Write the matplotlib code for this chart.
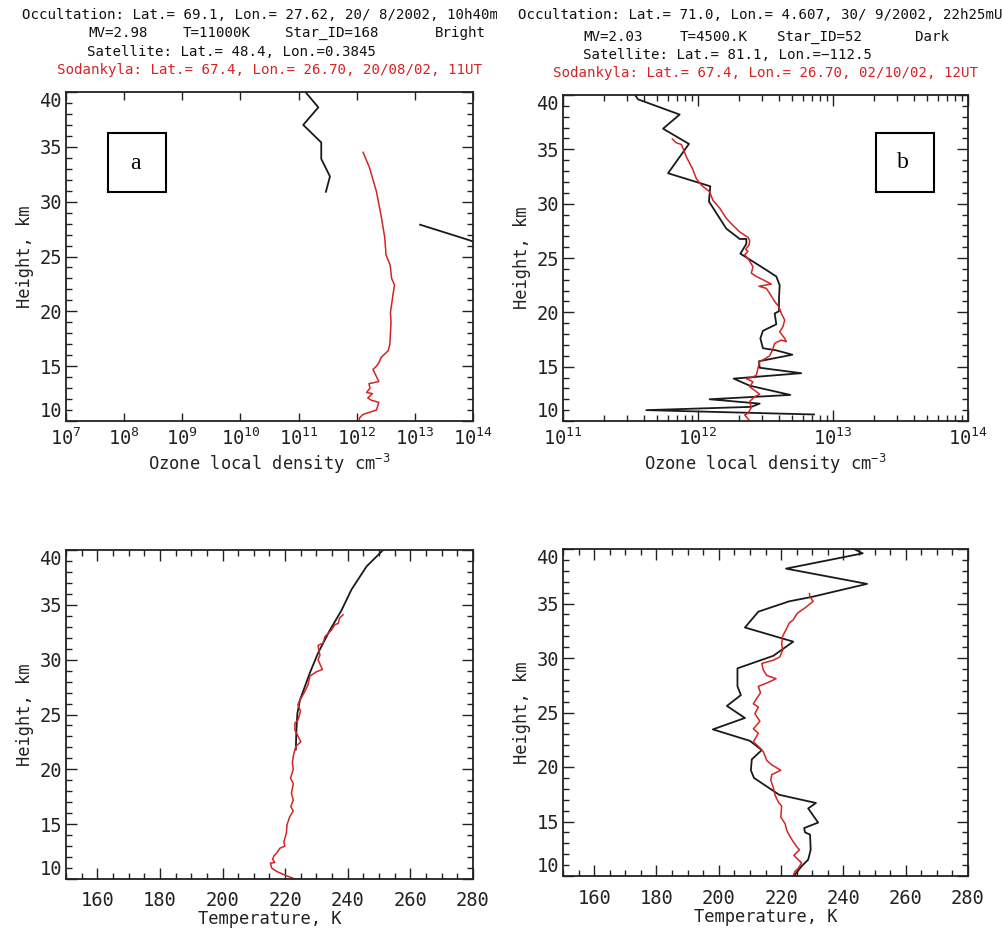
import numpy as np
import matplotlib
matplotlib.use("Agg")
import matplotlib.pyplot as plt
from matplotlib.ticker import MultipleLocator, LogLocator, NullLocator, FixedLocator, LogFormatterSciNotation
from matplotlib.patches import Rectangle

plt.rcParams['font.family'] = ['DejaVu Sans Mono', 'DejaVu Sans']
plt.rcParams['mathtext.fontset'] = 'custom'
plt.rcParams['mathtext.rm'] = 'DejaVu Sans Mono'
plt.rcParams['mathtext.it'] = 'DejaVu Sans Mono'
plt.rcParams['mathtext.bf'] = 'DejaVu Sans Mono'

RED = '#d42424'
BLACK = '#1a1a1a'
TXT = '#222222'

# ---------------- Panel a : ozone (log10 of density, cm^-3) ----------------
a_occ1_log10 = [11.07, 11.34, 11.08, 11.39, 11.39, 11.54, 11.47]
a_occ1_h     = [40.3, 38.6, 37.0, 35.4, 33.9, 32.3, 30.9]
a_occ2_log10 = [13.09, 13.87, 14.10]
a_occ2_h     = [27.9, 26.6, 26.2]
a_son_log10 = [12.11, 12.22, 12.34, 12.42, 12.48, 12.50, 12.50, 12.57, 12.58, 12.60, 12.65,
               12.62, 12.60, 12.58, 12.59, 12.58, 12.57, 12.54, 12.42, 12.38, 12.34, 12.28,
               12.38, 12.21, 12.23, 12.17, 12.27, 12.19, 12.25, 12.38, 12.34, 12.11, 12.05, 12.04]
a_son_h     = [34.5, 33.1, 30.9, 28.7, 26.8, 25.5, 25.2, 24.3, 24.0, 23.0, 22.4,
               21.4, 20.6, 19.9, 19.0, 18.0, 17.0, 16.4, 15.8, 15.3, 15.0, 14.7,
               13.6, 13.4, 13.0, 12.6, 12.5, 12.1, 11.9, 11.7, 11.0, 10.6, 10.3, 9.8]

# ---------------- Panel b : ozone (log10 of density, cm^-3) ----------------
b_occ_log10 = [11.53, 11.556, 11.864, 11.741, 11.933, 11.778, 12.091, 12.081, 12.210, 12.309,
               12.358, 12.358, 12.314, 12.506, 12.580, 12.605, 12.600, 12.600, 12.568, 12.580,
               12.481, 12.462, 12.481, 12.580, 12.699, 12.452, 12.457, 12.765, 12.264, 12.383,
               12.684, 12.086, 12.457, 12.395, 11.617, 12.859]
b_occ_h     = [40.06, 39.6, 38.2, 36.9, 35.5, 32.8, 31.6, 30.2, 27.7, 26.75,
               26.75, 26.3, 25.4, 23.9, 23.3, 22.5, 21.3, 20.1, 19.9, 18.9,
               18.3, 17.6, 16.7, 16.5, 16.1, 15.5, 14.9, 14.4, 13.9, 13.25,
               12.4, 12.0, 11.6, 11.3, 11.0, 10.6]
b_son_log10 = [11.81, 11.84, 11.877, 11.914, 11.958, 11.988, 12.025, 12.086, 12.111, 12.160,
               12.210, 12.259, 12.309, 12.370, 12.383, 12.378, 12.353, 12.370, 12.346, 12.378,
               12.407, 12.395, 12.432, 12.481, 12.543, 12.452, 12.506, 12.531, 12.568, 12.600,
               12.617, 12.642, 12.630, 12.605, 12.642, 12.654, 12.617, 12.568, 12.551, 12.531,
               12.506, 12.457, 12.444, 12.432, 12.395, 12.358, 12.407, 12.383, 12.432, 12.457,
               12.420, 12.383, 12.395, 12.370, 12.346, 12.383]
b_son_h     = [35.95, 35.6, 35.45, 34.3, 33.25, 32.3, 31.7, 31.1, 30.3, 29.6,
               28.65, 28.0, 27.4, 26.9, 26.6, 26.2, 25.8, 25.6, 25.3, 24.8,
               24.2, 23.6, 23.3, 23.0, 22.6, 22.4, 22.2, 21.75, 21.0, 20.5,
               19.9, 19.3, 18.7, 18.2, 17.6, 17.3, 17.45, 17.15, 16.5, 16.0,
               15.8, 15.45, 14.85, 14.2, 14.0, 13.9, 13.6, 13.15, 12.7, 12.45,
               12.25, 11.8, 11.25, 10.7, 10.55, 10.0]

# ---------------- Panel c : temperature (K) ----------------
c_occ_T = [251.3, 246.0, 241.2, 238.0, 234.3, 230.5, 227.9, 224.7, 223.9, 223.6, 223.4]
c_occ_h = [40.0, 38.5, 36.4, 34.5, 32.7, 30.6, 28.8, 26.3, 25.1, 23.6, 21.8]
c_son_T = [238.5, 237.4, 236.9, 235.9, 234.8, 232.7, 232.1, 230.5, 231.1, 230.5,
           231.9, 230.0, 227.9, 227.3, 226.3, 224.7, 224.1, 224.9, 224.1, 223.1,
           223.1, 225.0, 223.4, 222.6, 222.3, 222.6, 221.7, 222.6, 222.0, 222.6,
           221.8, 222.6, 221.5, 220.6, 220.4, 219.6, 219.9, 218.3, 217.4, 216.4,
           216.0, 216.7, 215.3, 215.7, 217.2, 220.4, 223.1]
c_son_h = [34.1, 33.8, 33.3, 33.2, 32.7, 32.1, 31.5, 31.3, 30.4, 30.0,
           29.1, 28.9, 28.5, 27.7, 27.1, 26.3, 25.9, 25.3, 24.5, 24.2,
           23.6, 22.5, 22.1, 21.2, 20.6, 20.0, 19.2, 18.7, 17.8, 17.2,
           16.6, 16.2, 15.7, 14.95, 14.2, 13.4, 13.0, 12.8, 12.4, 12.1,
           11.8, 11.5, 11.45, 11.0, 10.7, 10.3, 10.0]

# ---------------- Panel d : temperature (K) ----------------
d_occ_T = [243.4, 246.2, 221.6, 247.6, 229.8, 222.6, 212.7, 208.4, 223.9, 217.5,
           206.0, 206.0, 207.1, 202.6, 208.4, 198.1, 210.0, 213.8, 210.6, 210.3,
           211.3, 219.4, 231.2, 228.7, 231.9, 227.4, 227.7, 229.3, 229.5, 228.7,
           226.6, 224.1]
d_occ_h = [40.0, 39.6, 38.2, 36.8, 35.6, 35.2, 34.25, 32.8, 31.5, 30.2,
           29.05, 27.4, 26.6, 25.6, 24.5, 23.45, 22.4, 21.55, 20.7, 19.7,
           19.0, 17.45, 16.7, 16.2, 14.9, 14.4, 14.0, 13.8, 12.4, 11.5,
           10.9, 10.0]
d_son_T = [229.1, 229.3, 230.3, 227.7, 225.2, 223.9, 222.6, 221.6, 220.5, 220.2,
           220.5, 219.6, 217.5, 213.8, 214.3, 215.4, 218.4, 215.4, 212.7, 213.4,
           212.2, 211.1, 212.7, 211.6, 213.2, 211.1, 212.7, 211.1, 212.7, 214.3,
           215.4, 217.0, 219.9, 217.0, 216.7, 217.5, 218.1, 219.1, 220.2, 219.9,
           221.3, 221.8, 222.9, 223.9, 225.0, 225.9, 224.1, 225.5, 226.6, 225.5,
           224.4, 223.9]
d_son_h = [35.9, 35.6, 35.2, 34.6, 34.1, 33.5, 33.2, 32.6, 32.0, 31.3,
           30.7, 30.1, 29.8, 29.5, 28.9, 28.4, 28.1, 27.7, 27.4, 26.8,
           26.3, 25.8, 25.5, 24.9, 24.2, 23.5, 23.1, 22.3, 21.9, 21.4,
           20.6, 20.2, 19.7, 19.3, 18.8, 18.1, 17.4, 16.8, 16.4, 15.4,
           14.8, 14.2, 13.6, 13.15, 12.7, 12.4, 11.9, 11.5, 11.2, 10.7,
           10.4, 10.0]

header_left = ["Occultation: Lat.= 69.1, Lon.= 27.62, 20/ 8/2002, 10h40mUT",
               ["MV=2.98", "T=11000K", "Star_ID=168", "Bright"],
               "Satellite: Lat.= 48.4, Lon.=0.3845",
               "Sodankyla: Lat.= 67.4, Lon.= 26.70, 20/08/02, 11UT"]
header_right = ["Occultation: Lat.= 71.0, Lon.= 4.607, 30/ 9/2002, 22h25mUT",
                ["MV=2.03", "T=4500.K", "Star_ID=52", "Dark"],
                "Satellite: Lat.= 81.1, Lon.=\u2212112.5",
                "Sodankyla: Lat.= 67.4, Lon.= 26.70, 02/10/02, 12UT"]

W, H = 1003, 932
fig = plt.figure(figsize=(W / 100, H / 100), dpi=100)
fig.patch.set_facecolor('white')


def px_axes(x0, y0, x1, y1):
    return fig.add_axes([x0 / W, 1 - y1 / H, (x1 - x0) / W, (y1 - y0) / H])


axA = px_axes(66, 92, 473, 421)
axB = px_axes(563, 95, 968, 421)
axC = px_axes(66, 550, 473, 879)
axD = px_axes(563, 549, 968, 876)

TICKFS = 13.5
LABFS = 12.3
LW = 1.3

def style(ax):
    for s in ax.spines.values():
        s.set_linewidth(1.3)
        s.set_color(TXT)
    ax.set_ylim(10, 40)
    ax.yaxis.set_minor_locator(MultipleLocator(1))
    ax.tick_params(which='both', direction='in', top=True, right=True, colors=TXT,
                   labelcolor=TXT, labelsize=TICKFS)
    ax.tick_params(which='major', length=8, width=1.0)
    ax.tick_params(which='minor', length=4, width=1.0)
    ax.tick_params(axis='y', pad=3)
    ax.set_ylabel("Height, km", fontsize=LABFS, labelpad=4, color=TXT)
    ax.set_yticks([10, 15, 20, 25, 30, 35, 40])
    labs = ax.set_yticklabels(["10", "15", "20", "25", "30", "35", "40"])
    labs[0].set_va('bottom')
    labs[-1].set_va('top')


# Panel a
axA.plot(10 ** np.array(a_occ1_log10), a_occ1_h, color=BLACK, lw=LW)
axA.plot(10 ** np.array(a_occ2_log10), a_occ2_h, color=BLACK, lw=LW)
axA.plot(10 ** np.array(a_son_log10), a_son_h, color=RED, lw=1.1)
axA.set_xscale('log')
axA.set_xlim(1e7, 1e14)
axA.xaxis.set_major_locator(LogLocator(base=10, numticks=20))
axA.xaxis.set_minor_locator(NullLocator())
axA.xaxis.set_major_formatter(LogFormatterSciNotation())
style(axA)
axA.tick_params(axis='x', which='major', length=6, pad=5)
axA.set_xlabel("Ozone local density cm$^{-3}$", fontsize=LABFS, labelpad=2, color=TXT)

# Panel b
axB.plot(10 ** np.array(b_occ_log10), b_occ_h, color=BLACK, lw=LW)
axB.plot(10 ** np.array(b_son_log10), b_son_h, color=RED, lw=1.1)
axB.set_xscale('log')
axB.set_xlim(1e11, 1e14)
axB.xaxis.set_major_locator(LogLocator(base=10, numticks=20))
axB.xaxis.set_minor_locator(LogLocator(base=10, subs=np.arange(2, 10), numticks=40))
axB.xaxis.set_major_formatter(LogFormatterSciNotation())
style(axB)
axB.tick_params(axis='x', which='major', length=8, pad=5)
axB.set_xlabel("Ozone local density cm$^{-3}$", fontsize=LABFS, labelpad=2, color=TXT)

# Panels c, d
for ax, ot, oh, st, sh in [(axC, c_occ_T, c_occ_h, c_son_T, c_son_h),
                           (axD, d_occ_T, d_occ_h, d_son_T, d_son_h)]:
    ax.plot(ot, oh, color=BLACK, lw=LW)
    ax.plot(st, sh, color=RED, lw=1.1)
    ax.set_xlim(150, 280)
    ax.xaxis.set_major_locator(FixedLocator([160, 180, 200, 220, 240, 260, 280]))
    ax.xaxis.set_minor_locator(MultipleLocator(5))
    style(ax)
    ax.tick_params(axis='x', pad=9)
    ax.set_xlabel("Temperature, K", fontsize=LABFS, labelpad=0, color=TXT)

# Panel label boxes
for ax, (x0, x1, y0, y1), (tx, ty), lab in [
        (axA, (0.1032, 0.2457, 0.696, 0.8754), (0.1695, 0.784), 'a'),
        (axB, (0.7728, 0.916, 0.7025, 0.8834), (0.8395, 0.794), 'b')]:
    ax.add_patch(Rectangle((x0, y0), x1 - x0, y1 - y0, transform=ax.transAxes,
                           fill=False, ec='black', lw=1.5))
    ax.text(tx, ty, lab, transform=ax.transAxes, ha='center', va='center',
            fontsize=17, family='Liberation Serif')

# Headers
HFS = 10.2
def header(ax_clip, lines, x1, x3, x4, ys, word_x):
    ax_clip.text(x1 / W, 1 - ys[0] / H, lines[0], transform=fig.transFigure,
                 ha='left', va='center', fontsize=HFS, color='#111111', clip_on=True)
    for w, wx in zip(lines[1], word_x):
        fig.text(wx / W, 1 - ys[1] / H, w, ha='left', va='center', fontsize=HFS, color='#111111')
    fig.text(x3 / W, 1 - ys[2] / H, lines[2], ha='left', va='center', fontsize=HFS, color='#111111')
    fig.text(x4 / W, 1 - ys[3] / H, lines[3], ha='left', va='center', fontsize=HFS, color=RED)

hdrL = fig.add_axes([0, 0.9, 497 / W, 0.1]); hdrL.axis('off')
hdrR = fig.add_axes([0.5, 0.9, 0.5, 0.1]); hdrR.axis('off')
header(hdrL, header_left, 22, 87, 57, [15, 33, 52, 70], [88, 183, 285, 435])
header(hdrR, header_right, 518, 583, 553, [15, 37, 55, 73], [583, 680, 777, 915])

fig.savefig("out.png", dpi=100, facecolor='white')
